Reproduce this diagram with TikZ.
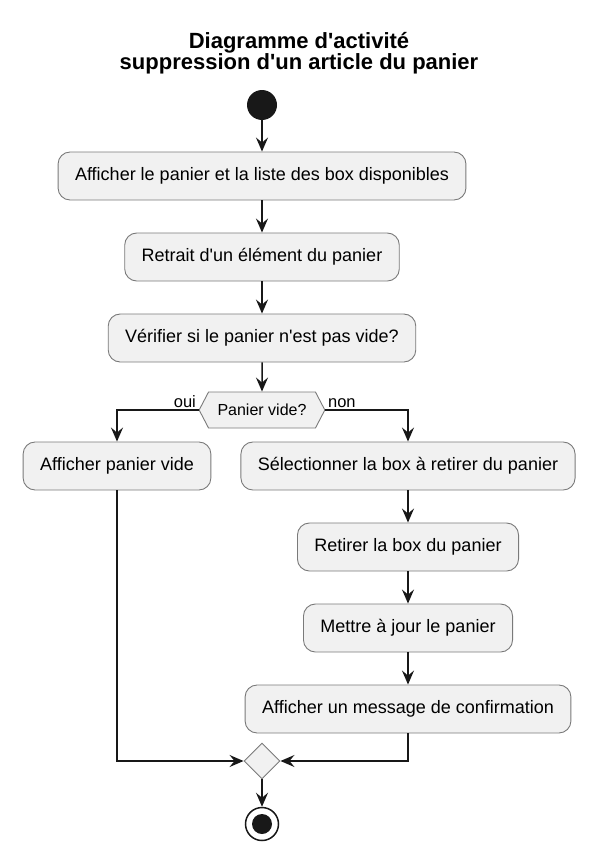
\documentclass[tikz,border=0pt]{standalone}
\usepackage{fontspec}
\setmainfont{Liberation Sans}[Ligatures=TeXOff]
\usetikzlibrary{arrows.meta,shapes.geometric,shapes.symbols}

\definecolor{boxfill}{HTML}{F1F1F1}
\definecolor{boxline}{HTML}{7A7A7A}
\definecolor{ink}{HTML}{181818}

\tikzset{
  action/.style={draw=boxline, line width=0.9pt, fill=boxfill, rounded corners=12pt,
    minimum height=48pt, inner xsep=17pt, font=\fontsize{18}{21}\selectfont},
  decision/.style={signal, signal to=east and west, signal pointer angle=125,
    draw=boxline, line width=0.9pt, fill=boxfill, minimum height=36pt, inner xsep=9pt,
    inner ysep=0pt, font=\fontsize{16}{19}\selectfont},
  mergebox/.style={diamond, draw=boxline, line width=0.9pt, fill=boxfill,
    minimum width=36pt, minimum height=36pt, inner sep=0pt},
  startdot/.style={circle, fill=ink, minimum size=30pt, inner sep=0pt},
  stopdot/.style={circle, draw=ink, line width=1.5pt, fill=white, minimum size=33pt, inner sep=0pt,
    path picture={\fill[ink] (path picture bounding box.center) circle (10pt);}},
  flow/.style={draw=ink, line width=1.5pt, -{Stealth[length=14pt,width=12pt,inset=5pt]}},
  guard/.style={font=\fontsize{16.5}{19}\selectfont, inner sep=2pt}
}

\begin{document}
\begin{tikzpicture}[x=1pt, y=-1pt]
  \useasboundingbox (0,0) rectangle (591,859);
  % title, centred on the whole page
  \node[font=\fontsize{22}{21}\bfseries, align=center] (titre) at (299,53)
    {Diagramme d'activité\\suppression d'un article du panier};
  % main column
  \node[startdot] (start) at (262,105) {};
  \node[action] (affichage) at (262,176) {Afficher le panier et la liste des box disponibles};
  \node[action] (retrait) at (262,257) {Retrait d'un élément du panier};
  \node[action] (verif) at (262,338) {Vérifier si le panier n'est pas vide?};
  \node[decision] (test) at (262,410) {Panier vide?};
  % branch oui
  \node[action] (vide) at (117,466) {Afficher panier vide};
  % branch non
  \node[action] (choix) at (408,466) {Sélectionner la box à retirer du panier};
  \node[action] (retirer) at (408,547) {Retirer la box du panier};
  \node[action] (maj) at (408,628) {Mettre à jour le panier};
  \node[action] (confirm) at (408,709) {Afficher un message de confirmation};
  % merge and end
  \node[mergebox] (merge) at (262,761) {};
  \node[stopdot] (stop) at (262,824) {};

  \draw[flow] (start) -- (affichage);
  \draw[flow] (affichage) -- (retrait);
  \draw[flow] (retrait) -- (verif);
  \draw[flow] (verif) -- (test);
  \draw[flow] (test.west) node[guard, above left] {oui} -| (vide);
  \draw[flow] (test.east) node[guard, above right] {non} -| (choix);
  \draw[flow] (choix) -- (retirer);
  \draw[flow] (retirer) -- (maj);
  \draw[flow] (maj) -- (confirm);
  \draw[flow] (vide) |- (merge);
  \draw[flow] (confirm) |- (merge);
  \draw[flow] (merge) -- (stop);
\end{tikzpicture}
\end{document}
